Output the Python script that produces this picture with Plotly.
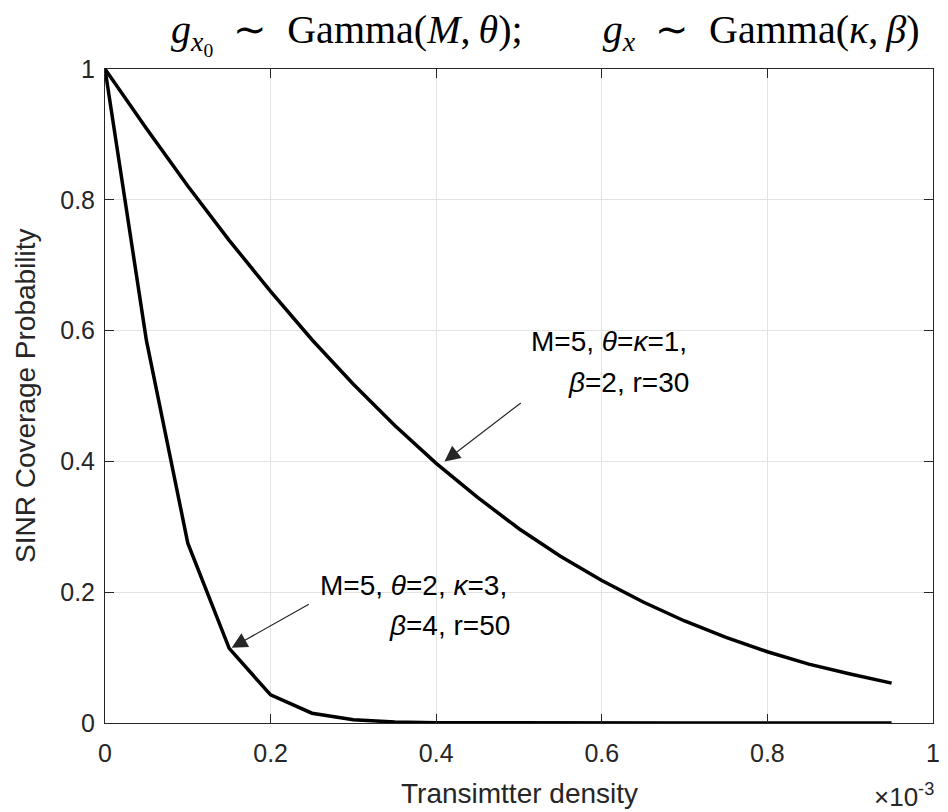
import plotly.graph_objects as go

# ---------------- data ----------------
density = [0.00, 0.05, 0.10, 0.15, 0.20, 0.25, 0.30, 0.35, 0.40, 0.45,
           0.50, 0.55, 0.60, 0.65, 0.70, 0.75, 0.80, 0.85, 0.90, 0.95]
cov_r30 = [1.000, 0.909, 0.821, 0.738, 0.660, 0.586, 0.518, 0.455, 0.397, 0.345,
           0.297, 0.255, 0.218, 0.185, 0.156, 0.131, 0.109, 0.090, 0.075, 0.061]
cov_r50 = [1.000, 0.585, 0.275, 0.114, 0.043, 0.015, 0.005, 0.0015, 0.0005, 0.0002,
           0.0001, 0.00004, 0.00002, 0.0, 0.0, 0.0, 0.0, 0.0, 0.0, 0.0]
tick_vals = [0, 0.2, 0.4, 0.6, 0.8, 1]
tick_text = ["0", "0.2", "0.4", "0.6", "0.8", "1"]

SANS = "Liberation Sans, Arial, sans-serif"
SERIF = "Liberation Serif, Times New Roman, serif"
DARK = "#262626"

fig = go.Figure()
for ys in (cov_r30, cov_r50):
    fig.add_trace(go.Scatter(x=density, y=ys, mode="lines",
                             line=dict(color="black", width=3.5),
                             showlegend=False, hoverinfo="skip"))

axis_common = dict(
    range=[0, 1], tickvals=tick_vals, ticktext=tick_text,
    showgrid=True, gridcolor="#e3e3e3", gridwidth=1,
    showline=True, linecolor=DARK, linewidth=1, mirror="ticks",
    ticks="inside", ticklen=9, tickcolor=DARK, tickwidth=1,
    tickfont=dict(family=SANS, size=25, color=DARK),
    zeroline=False, fixedrange=True,
)
fig.update_xaxes(**axis_common, ticklabelstandoff=8)
fig.update_yaxes(**axis_common, ticklabelstandoff=4)

LBL = dict(family=SANS, size=28, color="black")
annotations = [
    # title
    dict(text="<i>g</i><sub><i>x</i><sub>0</sub></sub>\u2002\u223c\u2002Gamma(<i>M</i>,\u2009<i>θ</i>);\u2003\u2003<i>g<sub>x</sub></i>\u2002\u223c\u2002Gamma(<i>κ</i>,\u2009<i>β</i>)",
         xref="paper", yref="paper", x=0.532, y=1.0, yshift=35, xanchor="center", yanchor="middle",
         showarrow=False, font=dict(family=SERIF, size=40, color="black")),
    # axis titles
    dict(text="Transimtter density", xref="paper", yref="paper", x=0.5, y=0, yshift=-70,
         xanchor="center", yanchor="middle", showarrow=False,
         font=dict(family=SANS, size=28, color=DARK)),
    dict(text="SINR Coverage Probability", xref="paper", yref="paper", x=0, xshift=-80, y=0.5,
         xanchor="center", yanchor="middle", textangle=-90, showarrow=False,
         font=dict(family=SANS, size=28, color=DARK)),
    dict(text="×10<sup>-3</sup>", xref="paper", yref="paper", x=1, xshift=3, y=0, yshift=-72,
         xanchor="right", yanchor="middle", showarrow=False,
         font=dict(family=SANS, size=26, color=DARK)),
    # curve labels
    dict(text="M=5, <i>θ</i>=<i>κ</i>=1,", xref="x", yref="y", x=0.512, y=0.583,
         xanchor="left", yanchor="middle", showarrow=False, font=LBL),
    dict(text="<i>β</i>=2, r=30", xref="x", yref="y", x=0.557, y=0.521,
         xanchor="left", yanchor="middle", showarrow=False, font=LBL),
    dict(text="M=5, <i>θ</i>=2, <i>κ</i>=3,", xref="x", yref="y", x=0.257, y=0.211,
         xanchor="left", yanchor="middle", showarrow=False, font=LBL),
    dict(text="<i>β</i>=4, r=50", xref="x", yref="y", x=0.341, y=0.149,
         xanchor="left", yanchor="middle", showarrow=False, font=LBL),
    # arrows
    dict(text="", x=0.41, y=0.40, ax=0.504, ay=0.491, xref="x", yref="y", axref="x", ayref="y",
         showarrow=True, arrowhead=2, arrowsize=2.6, arrowwidth=1.2, arrowcolor=DARK, standoff=0),
    dict(text="", x=0.153, y=0.115, ax=0.248, ay=0.183, xref="x", yref="y", axref="x", ayref="y",
         showarrow=True, arrowhead=2, arrowsize=2.6, arrowwidth=1.2, arrowcolor=DARK, standoff=0),
]

fig.update_layout(
    width=948, height=812,
    margin=dict(l=105, r=8, t=69, b=89),
    paper_bgcolor="white", plot_bgcolor="white",
    annotations=annotations,
    showlegend=False,
)

fig.write_html("out.html", config={"displayModeBar": False},
               post_script="document.body.style.margin='0';document.body.style.overflow='hidden';")
